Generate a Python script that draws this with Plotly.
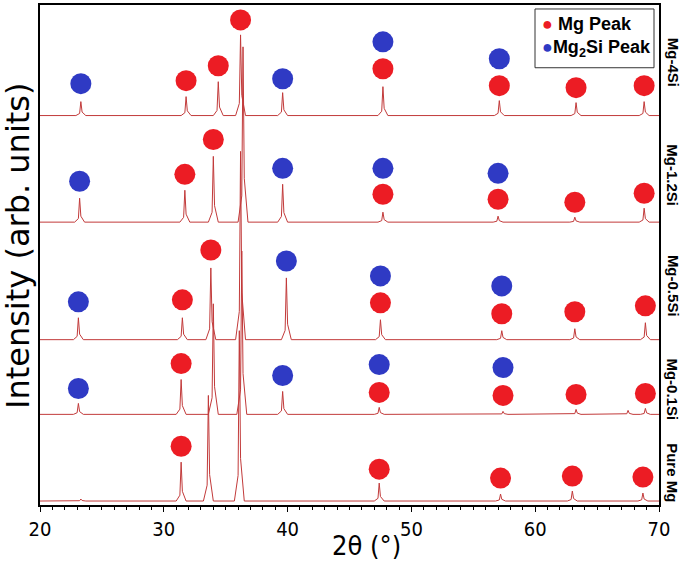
import plotly.graph_objects as go

# ---------------- data ----------------
series_names = ["Mg-4Si", "Mg-1.2Si", "Mg-0.5Si", "Mg-0.1Si", "Pure Mg"]
offsets = [391, 284, 166, 91, 4]

peaks_mg4si = [23.3, 31.8, 34.4, 36.2, 39.6, 47.7, 57.1, 63.3, 68.8]
heights_mg4si = [14, 19, 34, 81, 23, 29, 15, 13, 14]
peaks_mg12si = [23.2, 31.7, 34.0, 36.4, 39.6, 47.7, 57.0, 63.2, 68.8]
heights_mg12si = [24, 32, 66, 176, 38, 10, 6, 5, 14]
peaks_mg05si = [23.1, 31.5, 33.8, 36.2, 39.9, 47.5, 57.3, 63.2, 68.9]
heights_mg05si = [22, 22, 72, 189, 62, 20, 9, 11, 17]
peaks_mg01si = [23.1, 31.4, 34.0, 36.3, 39.6, 47.4, 57.4, 63.3, 67.5, 68.9]
heights_mg01si = [11, 35, 111, 164, 23, 7, 3, 5, 4, 6]
peaks_puremg = [23.3, 31.4, 33.6, 36.1, 47.4, 57.2, 63.0, 68.7]
heights_puremg = [2, 39, 106, 171, 18, 7, 10, 8]

mg_x_mg4si = [31.8, 34.4, 36.2, 47.7, 57.1, 63.3, 68.8]
mg_y_mg4si = [426, 441, 487, 438, 421, 419, 421]
si_x_mg4si = [23.3, 39.6, 47.7, 57.1]
si_y_mg4si = [423, 428, 465, 448]

mg_x_mg12si = [31.7, 34.0, 47.7, 57.0, 63.2, 68.8]
mg_y_mg12si = [332, 367, 312, 307, 304, 313]
si_x_mg12si = [23.2, 39.6, 47.7, 57.0]
si_y_mg12si = [325, 338, 338, 333]

mg_x_mg05si = [31.5, 33.8, 47.5, 57.3, 63.2, 68.9]
mg_y_mg05si = [206, 256, 203, 192, 194, 200]
si_x_mg05si = [23.1, 39.9, 47.5, 57.3]
si_y_mg05si = [204, 245, 230, 220]

mg_x_mg01si = [31.4, 47.4, 57.4, 63.3, 68.9]
mg_y_mg01si = [142, 113, 110, 111, 112]
si_x_mg01si = [23.1, 39.6, 47.4, 57.4]
si_y_mg01si = [117, 130, 141, 138]

mg_x_puremg = [31.4, 47.4, 57.2, 63.0, 68.7]
mg_y_puremg = [59, 36, 27, 29, 28]

x_ticks = [20, 30, 40, 50, 60, 70]

peak_sets = [
    (peaks_mg4si, heights_mg4si),
    (peaks_mg12si, heights_mg12si),
    (peaks_mg05si, heights_mg05si),
    (peaks_mg01si, heights_mg01si),
    (peaks_puremg, heights_puremg),
]
mg_markers = [
    (mg_x_mg4si, mg_y_mg4si), (mg_x_mg12si, mg_y_mg12si), (mg_x_mg05si, mg_y_mg05si),
    (mg_x_mg01si, mg_y_mg01si), (mg_x_puremg, mg_y_puremg),
]
si_markers = [
    (si_x_mg4si, si_y_mg4si), (si_x_mg12si, si_y_mg12si), (si_x_mg05si, si_y_mg05si),
    (si_x_mg01si, si_y_mg01si),
]

LINE_COLOR = "#c23a3a"
MG_COLOR = "#ec1c24"
SI_COLOR = "#2f3ac4"

fig = go.Figure()

# diffraction patterns
for name, base, (pk, hts) in zip(series_names, offsets, peak_sets):
    xs = [20.0]
    ys = [base]
    for p, h in zip(pk, hts):
        xs += [p - 0.4, p - 0.1, p, p + 0.1, p + 0.4]
        ys += [base, base + 0.15 * h, base + h, base + 0.25 * h, base]
    xs.append(70.0)
    ys.append(base)
    fig.add_trace(go.Scatter(x=xs, y=ys, mode="lines", name=name, showlegend=False,
                             line=dict(color=LINE_COLOR, width=1)))

# peak markers
mx, my = [], []
for xx, yy in mg_markers:
    mx += xx
    my += yy
sx, sy = [], []
for xx, yy in si_markers:
    sx += xx
    sy += yy
fig.add_trace(go.Scatter(x=mx, y=my, mode="markers", showlegend=False,
                         marker=dict(color=MG_COLOR, size=21, line=dict(width=0))))
fig.add_trace(go.Scatter(x=sx, y=sy, mode="markers", showlegend=False,
                         marker=dict(color=SI_COLOR, size=21, line=dict(width=0))))

# ---------------- layout ----------------
L, R, T, B = 40, 659, 3, 505
W, H = 685, 564
pw, ph = R - L, B - T


def px_x(p):
    return (p - L) / pw


def px_y(p):
    return (B - p) / ph


annotations = []
label_y = [60, 174, 285, 389, 472]
for name, yy in zip(series_names, label_y):
    annotations.append(dict(x=px_x(673), y=px_y(yy), xref="paper", yref="paper",
                            text="<b>" + name + "</b>", textangle=90, showarrow=False,
                            font=dict(family="Liberation Sans Narrow, Arial Narrow, Liberation Sans", size=15, color="black"),
                            xanchor="center", yanchor="middle"))

annotations.append(dict(x=px_x(18), y=px_y(245), xref="paper", yref="paper",
                        text="Intensity (arb. units)", textangle=-90, showarrow=False,
                        font=dict(family="DejaVu Sans", size=32, color="black"),
                        xanchor="center", yanchor="middle"))
annotations.append(dict(x=px_x(366), y=px_y(546), xref="paper", yref="paper",
                        text="2θ (°)", showarrow=False,
                        font=dict(family="DejaVu Sans Condensed, DejaVu Sans", size=27, color="black"),
                        xanchor="center", yanchor="middle"))

# legend (drawn manually)
annotations.append(dict(x=px_x(540), y=px_y(22), xref="paper", yref="paper",
                        text="<span style='color:%s'>●</span> <b>Mg Peak</b>" % MG_COLOR,
                        showarrow=False, xanchor="left", yanchor="middle",
                        font=dict(family="Liberation Sans, Arial", size=18, color="black")))
annotations.append(dict(x=px_x(540), y=px_y(47), xref="paper", yref="paper",
                        text="<span style='color:%s'>●</span><b>Mg<sub>2</sub>Si Peak</b>" % SI_COLOR,
                        showarrow=False, xanchor="left", yanchor="middle",
                        font=dict(family="Liberation Sans, Arial", size=18, color="black")))

shapes = [dict(type="rect", xref="paper", yref="paper",
               x0=px_x(535), x1=px_x(654), y0=px_y(66), y1=px_y(7),
               line=dict(color="#333333", width=1), fillcolor="rgba(255,255,255,0)")]

fig.update_layout(
    width=W, height=H,
    margin=dict(l=L, r=W - R, t=T, b=H - B, pad=0),
    paper_bgcolor="white", plot_bgcolor="white",
    annotations=annotations, shapes=shapes,
    xaxis=dict(range=[20, 70], tickvals=x_ticks, ticktext=[str(v) for v in x_ticks],
               ticks="outside", ticklen=5, tickwidth=1, tickcolor="black",
               minor=dict(dtick=1, ticks="outside", ticklen=3, tickcolor="black", tickwidth=1),
               showline=True, linecolor="black", linewidth=2, mirror=True,
               showgrid=False, zeroline=False,
               tickfont=dict(family="DejaVu Sans Condensed, DejaVu Sans", size=20, color="black")),
    yaxis=dict(range=[0, ph], showticklabels=False, ticks="",
               showline=True, linecolor="black", linewidth=2, mirror=True,
               showgrid=False, zeroline=False),
)

fig.write_html("out.html", config={"displayModeBar": False},
               post_script="document.body.style.margin='0px';document.body.style.overflow='hidden';")
